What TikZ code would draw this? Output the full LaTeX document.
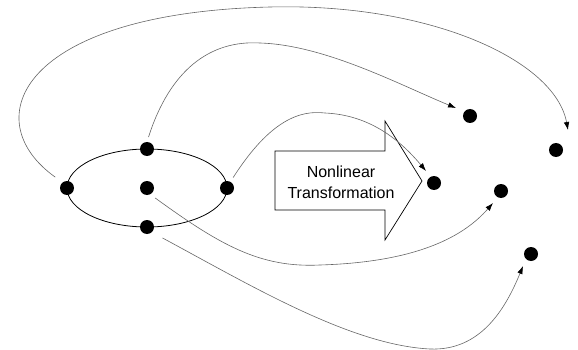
\documentclass[tikz,border=0pt]{standalone}
\usepackage{fontspec}
\setmainfont{Liberation Sans}
\usetikzlibrary{arrows.meta}
\begin{document}
\begin{tikzpicture}[x=1pt,y=-1pt,
  dot/.style={circle,fill=black,inner sep=0pt,minimum size=14pt},
  conn/.style={draw=black!60,line width=0.6pt,-{Latex[length=8pt,width=5.5pt,black]}},
  outline/.style={draw=black,line width=0.8pt},
  label/.style={align=center,font=\fontsize{16}{21}\selectfont}]
\useasboundingbox (0,0) rectangle (578,350);
% ellipse
\draw[outline] (147,188) ellipse [x radius=80pt, y radius=39pt];
% big arrow
\draw[draw=black,line width=0.7pt] (275,151) -- (385,151) -- (385,121) -- (422,181) -- (385,240) -- (385,210) -- (275,210) -- cycle;
\node[label] (txt) at (341,182) {Nonlinear\\Transformation};
% left dots
\node[dot] (dL) at (67,188) {};
\node[dot] (dT) at (147,149) {};
\node[dot] (dC) at (147,188) {};
\node[dot] (dR) at (227,188) {};
\node[dot] (dB) at (147,227) {};
% right dots
\node[dot] (r1) at (470,116) {};
\node[dot] (r2) at (556,150) {};
\node[dot] (r3) at (434,183) {};
\node[dot] (r4) at (501,191) {};
\node[dot] (r5) at (531,254) {};
% arrow ends
\coordinate (e1) at (568,130);
\coordinate (e2) at (456,108);
\coordinate (e3) at (426,171);
\coordinate (e4) at (493,203);
\coordinate (e5) at (523,266);
% connectors
\draw[conn,shorten <=9pt] (dL.128) .. controls (-25,120) and (20,13) .. (270,7) .. controls (430,3) and (555,60) .. (e1);
\draw[conn,shorten <=5pt] (dT.90) .. controls (170,70) and (210,40) .. (260,43) .. controls (325,45) and (400,85) .. (e2);
\draw[conn,shorten <=5pt] (dR.61) .. controls (270,120) and (300,110) .. (325,113) .. controls (370,115) and (400,140) .. (e3);
\draw[conn,shorten <=6pt] (dC.-63) .. controls (220,245) and (260,268) .. (320,265) .. controls (420,262) and (465,235) .. (e4);
\draw[conn,shorten <=12pt] (dB.-47) .. controls (250,285) and (350,345) .. (430,349) .. controls (480,351) and (505,310) .. (e5);
\end{tikzpicture}
\end{document}
